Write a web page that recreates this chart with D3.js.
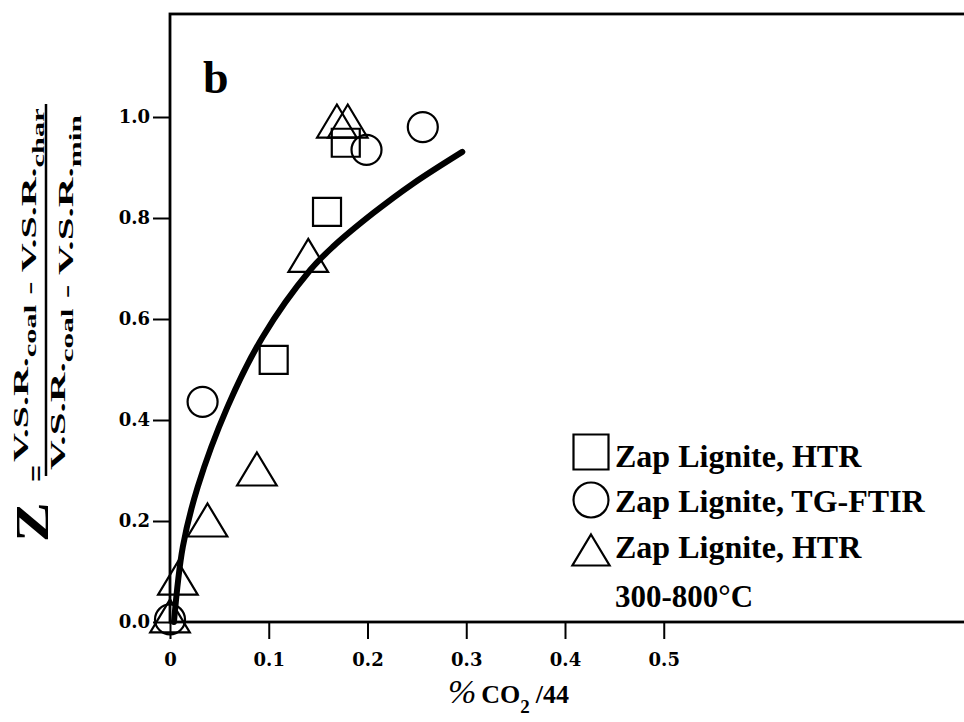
<!DOCTYPE html>
<html>
<head>
<meta charset="utf-8">
<script src="https://cdn.jsdelivr.net/npm/d3@7"></script>
<style>
  html, body { margin: 0; padding: 0; background: #fff; }
  svg { display: block; }
</style>
</head>
<body>
<svg id="chart" width="964" height="722"></svg>
<script>
// Zap lignite: HTR squares, TG-FTIR circles, HTR 300-800°C triangles
const squareX = [0.178, 0.159, 0.105];
const squareY = [0.949, 0.812, 0.519];
const circleX = [0.256, 0.199, 0.033, 0.000];
const circleY = [0.980, 0.935, 0.436, 0.005];
const triangleX = [0.169, 0.180, 0.140, 0.088, 0.038, 0.008, 0.000];
const triangleY = [0.992, 0.992, 0.726, 0.303, 0.202, 0.087, 0.012];
// fitted curve
const fitX = [0.004, 0.013, 0.028, 0.058, 0.094, 0.142, 0.165, 0.206, 0.246, 0.296];
const fitY = [0.000, 0.149, 0.267, 0.425, 0.565, 0.697, 0.743, 0.810, 0.868, 0.931];

const xTickValues = [0, 0.1, 0.2, 0.3, 0.4, 0.5];
const xTickLabels = ["0", "0.1", "0.2", "0.3", "0.4", "0.5"];
const yTickValues = [0, 0.2, 0.4, 0.6, 0.8, 1.0];
const yTickLabels = ["0.0", "0.2", "0.4", "0.6", "0.8", "1.0"];
const legendLabels = ["Zap Lignite, HTR", "Zap Lignite, TG-FTIR", "Zap Lignite, HTR"];
const legendShapes = ["square", "circle", "triangle"];
const legendNote = "300-800°C";

const svg = d3.select("#chart");
const left = 170, bottom = 622;
const x = d3.scaleLinear().domain([0, 0.82]).range([left, left + 0.82 * 987.5]);
const y = d3.scaleLinear().domain([0, 1.204]).range([bottom, bottom - 1.204 * 505]);

const tickFont = "'DejaVu Serif', serif";
const textFont = "'Liberation Serif', 'Times New Roman', serif";

// plot frame (right side runs past the page edge)
svg.append("rect")
  .attr("x", x(0)).attr("y", y(1.204))
  .attr("width", x(0.82) - x(0)).attr("height", y(0) - y(1.204))
  .attr("fill", "none").attr("stroke", "#000").attr("stroke-width", 2.8);

// axes
const yAxis = svg.append("g")
  .attr("transform", `translate(${x(0)},0)`)
  .call(d3.axisLeft(y).tickValues(yTickValues)
    .tickFormat((d, i) => yTickLabels[i]).tickSize(17).tickPadding(3));
const xAxis = svg.append("g")
  .attr("transform", `translate(0,${y(0)})`)
  .call(d3.axisBottom(x).tickValues(xTickValues)
    .tickFormat((d, i) => xTickLabels[i]).tickSize(17).tickPadding(14));
[yAxis, xAxis].forEach(g => {
  g.select(".domain").remove();
  g.selectAll(".tick line").attr("stroke", "#000").attr("stroke-width", 2);
  g.selectAll(".tick text").attr("fill", "#000")
    .style("font-family", tickFont).style("font-weight", "bold").style("font-size", "18px");
});

// panel letter
svg.append("text").attr("x", 203).attr("y", 93)
  .style("font-family", textFont).style("font-weight", "bold").style("font-size", "46px")
  .text("b");

// fitted curve
const fit = fitX.map((v, i) => [v, fitY[i]]);
svg.append("path")
  .attr("d", d3.line().x(d => x(d[0])).y(d => y(d[1])).curve(d3.curveCatmullRom.alpha(0.5))(fit))
  .attr("fill", "none").attr("stroke", "#000").attr("stroke-width", 6)
  .attr("stroke-linecap", "round");

// marker shapes
function shapePath(kind, s) {
  if (kind === "square") return `M${-s/2},${-s/2}h${s}v${s}h${-s}Z`;
  if (kind === "circle") { const r = s / 2; return `M${r},0A${r},${r} 0 1,1 ${-r},0A${r},${r} 0 1,1 ${r},0Z`; }
  const w = s * 1.2, h = s;
  return `M0,${-h/2}L${w/2},${h/2}L${-w/2},${h/2}Z`;
}
function drawMarkers(xs, ys, kind, size) {
  svg.append("g").selectAll("path").data(xs.map((v, i) => [v, ys[i]])).join("path")
    .attr("transform", d => `translate(${x(d[0])},${y(d[1])})`)
    .attr("d", shapePath(kind, size))
    .attr("fill", "none").attr("stroke", "#000").attr("stroke-width", 2.2);
}
drawMarkers(squareX, squareY, "square", 28);
drawMarkers(circleX, circleY, "circle", 30);
drawMarkers(triangleX, triangleY, "triangle", 33);

// legend
const legend = svg.append("g");
const markerY = [452, 500, 550];
const baseY = [467, 512, 558];
legendLabels.forEach((lab, i) => {
  legend.append("path")
    .attr("transform", `translate(591,${markerY[i]})`)
    .attr("d", shapePath(legendShapes[i], legendShapes[i] === "triangle" ? 31 : 35))
    .attr("fill", "none").attr("stroke", "#000").attr("stroke-width", 2.2);
  legend.append("text").attr("x", 615).attr("y", baseY[i])
    .style("font-family", textFont).style("font-weight", "bold").style("font-size", "32px")
    .text(lab);
});
legend.append("text").attr("x", 615).attr("y", 607)
  .style("font-family", textFont).style("font-weight", "bold").style("font-size", "31px")
  .text(legendNote);

// x-axis title
const xt = svg.append("text").attr("x", 448).attr("y", 703)
  .style("font-family", textFont).style("font-weight", "bold").style("font-size", "26px");
xt.append("tspan").style("font-style", "italic").style("font-weight", "normal")
  .style("font-size", "34px").text("%");
xt.append("tspan").attr("dx", 5).text("CO");
xt.append("tspan").attr("dy", 10).style("font-size", "19px").text("2");
xt.append("tspan").attr("dy", -10).attr("dx", 6).text("/44");

// y-axis title: Z = (V.S.R.coal - V.S.R.char) / (V.S.R.coal - V.S.R.min)
function ratioLine(bx, by, length, parts) {
  const g = svg.append("g").attr("transform", `translate(${bx},${by}) rotate(-90)`);
  const inner = g.append("g");
  const t = inner.append("text")
    .style("font-family", textFont).style("font-weight", "bold").style("font-size", "21px");
  parts.forEach(p => {
    if (p.sub) {
      t.append("tspan").attr("dy", 8).style("font-size", "16px").text(p.sub);
      t.append("tspan").attr("dy", -8).text("");
    } else {
      t.append("tspan").text(p.text);
    }
  });
  const w = t.node().getComputedTextLength();
  inner.attr("transform", `scale(${length / w},1)`);
}
ratioLine(28, 462, 354, [{text: "V.S.R."}, {sub: "coal"}, {text: "  -  V.S.R."}, {sub: "char"}]);
ratioLine(65, 470, 355, [{text: "V.S.R."}, {sub: "coal"}, {text: "  -  V.S.R."}, {sub: "min"}]);
svg.append("line").attr("x1", 46).attr("x2", 46).attr("y1", 476).attr("y2", 104)
  .attr("stroke", "#000").attr("stroke-width", 2.5);

const zg = svg.append("g").attr("transform", "translate(48,542) rotate(-90)");
zg.append("text").attr("transform", "scale(1.3,1)")
  .style("font-family", textFont).style("font-weight", "bold").style("font-size", "46px")
  .text("Z");
svg.append("g").attr("transform", "translate(46,482) rotate(-90)")
  .append("text")
  .style("font-family", textFont).style("font-weight", "bold").style("font-size", "30px")
  .text("=");
</script>
</body>
</html>
